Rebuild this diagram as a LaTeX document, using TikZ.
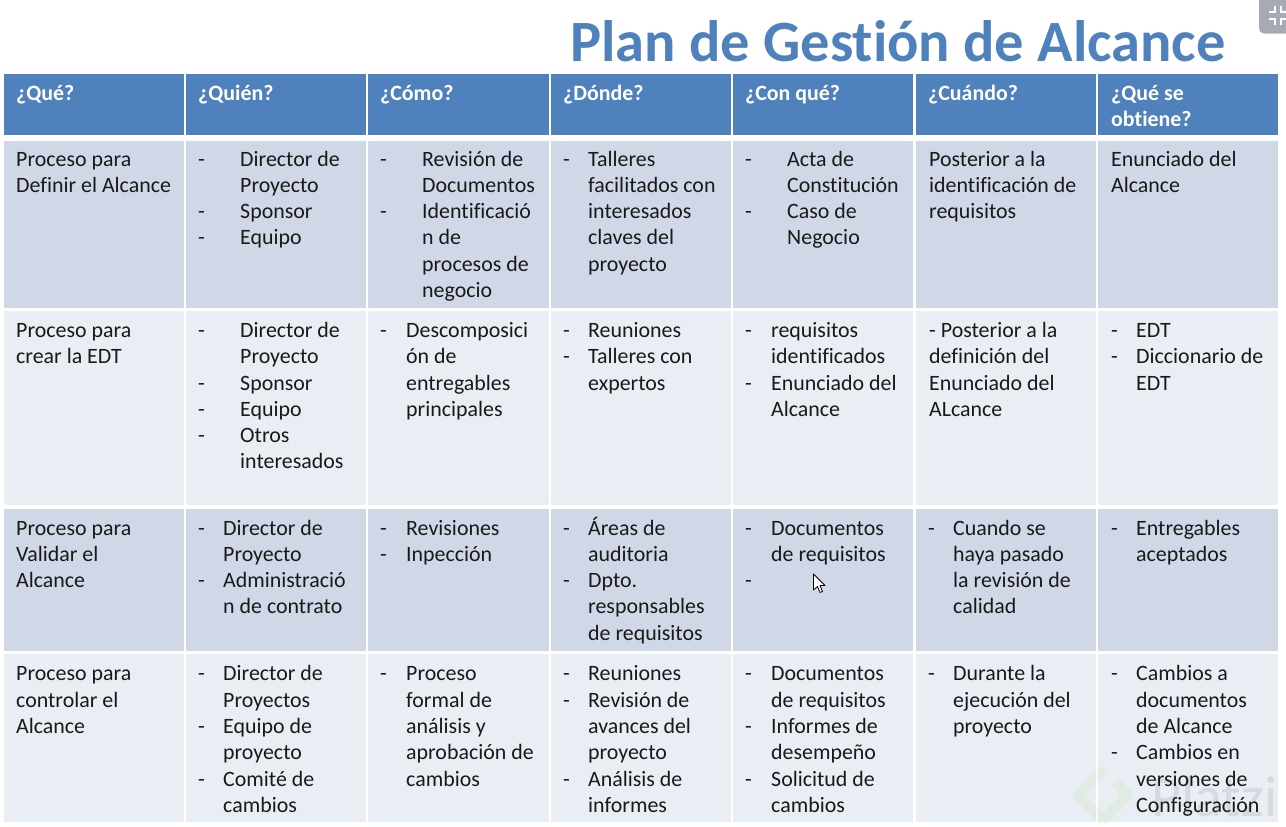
\documentclass[tikz,border=0pt]{standalone}
\usepackage{fontspec}
\setmainfont[Ligatures=NoCommon]{Carlito}
\definecolor{hdblue}{HTML}{4F81BD}
\definecolor{rowdark}{HTML}{D0D8E8}
\definecolor{rowlight}{HTML}{E9EDF4}
\definecolor{btngray}{HTML}{A7AAB2}
\tikzset{
	cell/.style={inner sep=0pt, anchor=north west, align=left, text=black!90, font=\fontsize{21.9}{26.3}\selectfont},
	headcell/.style={cell, text=white, font=\bfseries\fontsize{21.9}{26.3}\selectfont},
	wmark/.style={opacity=0.08}
}
\begin{document}
\begin{tikzpicture}[x=1pt,y=-1pt]
	\useasboundingbox (0,0) rectangle (1286,827);
	\clip (0,0) rectangle (1286,827);
	% table background
	\foreach \xa/\xb in {4/184,186/366,368/549,551/731,733/913,916/1096,1098/1278}{
		\fill[hdblue] (\xa,74) rectangle (\xb,135);
		\fill[rowdark] (\xa,141) rectangle (\xb,308);
		\fill[rowlight] (\xa,311) rectangle (\xb,505);
		\fill[rowdark] (\xa,509) rectangle (\xb,651);
		\fill[rowlight] (\xa,654) rectangle (\xb,822);
	}
	% title
	\node[inner sep=0pt, anchor=base west, text=hdblue, font=\bfseries\fontsize{58.5}{60}\selectfont] (title) at (570,61.8) {Plan de Gestión de Alcance};
	% header
	\node[headcell] (h1) at (16,81.6) {\strut ¿Qué?};
	\node[headcell] (h2) at (198,81.6) {\strut ¿Quién?};
	\node[headcell] (h3) at (380,81.6) {\strut ¿Cómo?};
	\node[headcell] (h4) at (563,81.6) {\strut ¿Dónde?};
	\node[headcell] (h5) at (745,81.6) {\strut ¿Con qué?};
	\node[headcell] (h6) at (928,81.6) {\strut ¿Cuándo?};
	\node[headcell] (h7) at (1111,81.6) {\strut ¿Qué se\\obtiene?};
	% first row
	\node[cell] (a1) at (16,147.4) {\strut Proceso para\\Definir el Alcance};
	\node[cell] (a2d) at (198,147.4) {\strut -\\\strut\\-\\-};
	\node[cell] (a2) at (240,147.4) {\strut Director de\\Proyecto\\Sponsor\\Equipo};
	\node[cell] (a3d) at (380,147.4) {\strut -\\\strut\\-};
	\node[cell] (a3) at (422,147.4) {\strut Revisión de\\Documentos\\Identificació\\n de\\procesos de\\negocio};
	\node[cell] (a4d) at (563,147.4) {\strut -};
	\node[cell] (a4) at (588,147.4) {\strut Talleres\\facilitados con\\interesados\\claves del\\proyecto};
	\node[cell] (a5d) at (745,147.4) {\strut -\\\strut\\-};
	\node[cell] (a5) at (787,147.4) {\strut Acta de\\Constitución\\Caso de\\Negocio};
	\node[cell] (a6) at (929,147.4) {\strut Posterior a la\\identificación de\\requisitos};
	\node[cell] (a7) at (1111,147.4) {\strut Enunciado del\\Alcance};
	% second row
	\node[cell] (b1) at (16,318.8) {\strut Proceso para\\crear la EDT};
	\node[cell] (b2d) at (198,318.8) {\strut -\\\strut\\-\\-\\-};
	\node[cell] (b2) at (240,318.8) {\strut Director de\\Proyecto\\Sponsor\\Equipo\\Otros\\interesados};
	\node[cell] (b3d) at (380,318.8) {\strut -};
	\node[cell] (b3) at (406,318.8) {\strut Descomposici\\ón de\\entregables\\principales};
	\node[cell] (b4d) at (563,318.8) {\strut -\\-};
	\node[cell] (b4) at (588,318.8) {\strut Reuniones\\Talleres con\\expertos};
	\node[cell] (b5d) at (745,318.8) {\strut -\\\strut\\-};
	\node[cell] (b5) at (771,318.8) {\strut requisitos\\identificados\\Enunciado del\\Alcance};
	\node[cell] (b6) at (929,318.8) {\strut - Posterior a la\\definición del\\Enunciado del\\ALcance};
	\node[cell] (b7d) at (1111,318.8) {\strut -\\-};
	\node[cell] (b7) at (1136,318.8) {\strut EDT\\Diccionario de\\EDT};
	% third row
	\node[cell] (c1) at (16,516.4) {\strut Proceso para\\Validar el\\Alcance};
	\node[cell] (c2d) at (198,516.4) {\strut -\\\strut\\-};
	\node[cell] (c2) at (223,516.4) {\strut Director de\\Proyecto\\Administració\\n de contrato};
	\node[cell] (c3d) at (380,516.4) {\strut -\\-};
	\node[cell] (c3) at (406,516.4) {\strut Revisiones\\Inpección};
	\node[cell] (c4d) at (563,516.4) {\strut -\\\strut\\-};
	\node[cell] (c4) at (588,516.4) {\strut Áreas de\\auditoria\\Dpto.\\responsables\\de requisitos};
	\node[cell] (c5d) at (745,516.4) {\strut -\\\strut\\-};
	\node[cell] (c5) at (771,516.4) {\strut Documentos\\de requisitos};
	\node[cell] (c6d) at (928,516.4) {\strut -};
	\node[cell] (c6) at (953,516.4) {\strut Cuando se\\haya pasado\\la revisión de\\calidad};
	\node[cell] (c7d) at (1111,516.4) {\strut -};
	\node[cell] (c7) at (1136,516.4) {\strut Entregables\\aceptados};
	% fourth row
	\node[cell] (e1) at (16,662.2) {\strut Proceso para\\controlar el\\Alcance};
	\node[cell] (e2d) at (198,662.2) {\strut -\\\strut\\-\\\strut\\-};
	\node[cell] (e2) at (223,662.2) {\strut Director de\\Proyectos\\Equipo de\\proyecto\\Comité de\\cambios};
	\node[cell] (e3d) at (380,662.2) {\strut -};
	\node[cell] (e3) at (406,662.2) {\strut Proceso\\formal de\\análisis y\\aprobación de\\cambios};
	\node[cell] (e4d) at (563,662.2) {\strut -\\-\\\strut\\\strut\\-};
	\node[cell] (e4) at (588,662.2) {\strut Reuniones\\Revisión de\\avances del\\proyecto\\Análisis de\\informes};
	\node[cell] (e5d) at (745,662.2) {\strut -\\\strut\\-\\\strut\\-};
	\node[cell] (e5) at (771,662.2) {\strut Documentos\\de requisitos\\Informes de\\desempeño\\Solicitud de\\cambios};
	\node[cell] (e6d) at (928,662.2) {\strut -};
	\node[cell] (e6) at (953,662.2) {\strut Durante la\\ejecución del\\proyecto};
	\node[cell] (e7d) at (1111,662.2) {\strut -\\\strut\\\strut\\-};
	\node[cell] (e7) at (1136,662.2) {\strut Cambios a\\documentos\\de Alcance\\Cambios en\\versiones de\\Configuración};
	% mouse pointer
	\draw[fill=white, line width=0.8pt, line join=round] (813.5,574) -- (813.5,590) -- (817.5,586.5) -- (820,592.5) -- (822.5,591.5) -- (820,585.5) -- (825,585.5) -- cycle;
	% exit button
	\fill[btngray, rounded corners=5pt] (1259,-8) rectangle (1296,33.5);
	\draw[white, line width=2.4pt] (1269,12) -- (1275,12) -- (1275,6);
	\draw[white, line width=2.4pt] (1269,19) -- (1275,19) -- (1275,25);
	\draw[white, line width=2.4pt] (1287,12) -- (1281,12) -- (1281,6);
	\draw[white, line width=2.4pt] (1287,19) -- (1281,19) -- (1281,25);
	% watermark
	\draw[wmark, yellow!60!green, line width=10pt, line join=round] (1103,770) -- (1078,795) -- (1103,820) -- (1128,795) -- (1115,782);
	\node[wmark, inner sep=0pt, anchor=base west, text=black, font=\fontsize{58}{64}\selectfont] (wm) at (1151,816) {Platzi};
\end{tikzpicture}
\end{document}
